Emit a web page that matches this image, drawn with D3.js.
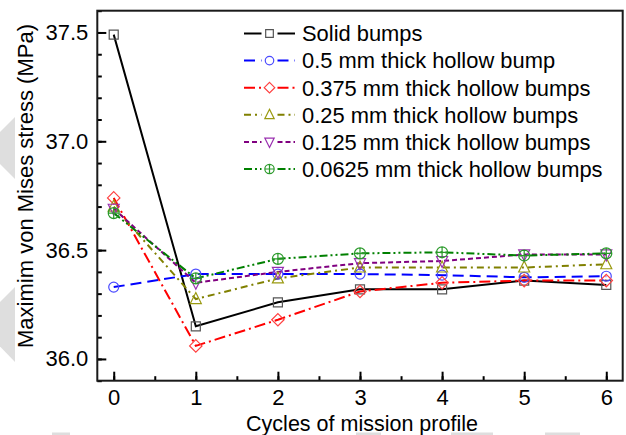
<!DOCTYPE html>
<html>
<head>
<meta charset="utf-8">
<script src="https://cdn.jsdelivr.net/npm/d3@7"></script>
<style>
  html, body { margin: 0; padding: 0; background: #fff; }
  svg { display: block; }
  text { font-family: "Liberation Sans", Arial, sans-serif; fill: #000; }
</style>
</head>
<body>
<svg id="chart" width="626" height="435"></svg>
<script>
// ---------------- data ----------------
const cycles = [0, 1, 2, 3, 4, 5, 6];
const seriesNames = [
  "Solid bumps",
  "0.5 mm thick hollow bump",
  "0.375 mm thick hollow bumps",
  "0.25 mm thick hollow bumps",
  "0.125 mm thick hollow bumps",
  "0.0625 mm thick hollow bumps"
];
const solidBumps     = [37.49, 36.15, 36.26, 36.32, 36.32, 36.36, 36.34];
const hollow0500     = [36.33, 36.39, 36.39, 36.39, 36.385, 36.375, 36.38];
const hollow0375     = [36.74, 36.06, 36.18, 36.31, 36.35, 36.36, 36.36];
const hollow0250     = [36.70, 36.275, 36.37, 36.42, 36.42, 36.42, 36.435];
const hollow0125     = [36.69, 36.35, 36.40, 36.44, 36.45, 36.48, 36.48];
const hollow00625    = [36.67, 36.37, 36.46, 36.485, 36.49, 36.475, 36.485];
const seriesValues = [solidBumps, hollow0500, hollow0375, hollow0250, hollow0125, hollow00625];
const xTickLabels = [0, 1, 2, 3, 4, 5, 6];
const yTickLabels = [36.0, 36.5, 37.0, 37.5];
const xTitle = "Cycles of mission profile";
const yTitle = "Maximim von Mises stress (MPa)";

// ---------------- styles ----------------
const lineColors   = ["#000000", "#0000ff", "#ff0000", "#808000", "#800080", "#008000"];
const markerColors = ["#555555", "#4a4aff", "#ff4040", "#9a9a10", "#9a30b0", "#2a9a2a"];
const dashes       = [null, "11,6", "11,4,2,4", "7,4,2,4", "5,3", "8,3,2,3,2,3"];
const markerTypes  = ["square", "circle", "diamond", "triUp", "triDown", "circlePlus"];

function markerPath(type, k) {
  k = k || 1;
  switch (type) {
    case "square": { const s = 4.5 * k; return `M${-s},${-s}H${s}V${s}H${-s}Z`; }
    case "circle": { const r = 5 * k; return `M${r},0A${r},${r} 0 1,1 ${-r},0A${r},${r} 0 1,1 ${r},0Z`; }
    case "diamond": { const d = 6.2 * k; return `M0,${-d}L${d},0L0,${d}L${-d},0Z`; }
    case "triUp": { const w = 5.5 * k, t = 6.5 * k, b = 4.5 * k; return `M0,${-t}L${w},${b}L${-w},${b}Z`; }
    case "triDown": { const w = 5.5 * k, t = 6.5 * k, b = 4.5 * k; return `M0,${t}L${w},${-b}L${-w},${-b}Z`; }
    case "circlePlus": { const r = 5.5 * k; return `M${r},0A${r},${r} 0 1,1 ${-r},0A${r},${r} 0 1,1 ${r},0ZM${-r},0H${r}M0,${-r}V${r}`; }
  }
}

// ---------------- layout ----------------
const svg = d3.select("#chart");
const plot = { left: 97.3, right: 622.7, top: 10.7, bottom: 380.7 };

const x = d3.scaleLinear().domain([-0.2, 6.2]).range([plot.left, plot.right]);
const y = d3.scaleLinear().domain([35.9, 37.6]).range([plot.bottom, plot.top]);

// watermark remnants (light gray)
const wm = svg.append("g").attr("fill", "#dedede");
wm.append("path").attr("d", "M15,117L15,179L-16,148Z");
wm.append("path").attr("d", "M15,287L15,362L-22,324Z");
[[52, 70], [356, 381], [451, 493], [545, 580]].forEach(([a, b]) => {
  wm.append("rect").attr("x", a).attr("y", 432.5).attr("width", b - a).attr("height", 2.5);
});

// minor ticks
const yMinor = d3.range(35.9, 37.61, 0.1).map(v => +v.toFixed(1));
const xMinor = d3.range(-0.5, 6.6, 0.5).filter(v => v >= -0.2 && v <= 6.2);

svg.append("g")
  .attr("transform", `translate(${plot.left},0)`)
  .call(d3.axisLeft(y).tickValues(yMinor).tickSizeInner(-4.5).tickSizeOuter(0).tickFormat(""))
  .call(g => g.select(".domain").remove())
  .call(g => g.selectAll("line").attr("stroke", "#000").attr("stroke-width", 2));

svg.append("g")
  .attr("transform", `translate(0,${plot.bottom})`)
  .call(d3.axisBottom(x).tickValues(xMinor).tickSizeInner(-4.5).tickSizeOuter(0).tickFormat(""))
  .call(g => g.select(".domain").remove())
  .call(g => g.selectAll("line").attr("stroke", "#000").attr("stroke-width", 2));

// major ticks + labels
svg.append("g")
  .attr("transform", `translate(${plot.left},0)`)
  .call(d3.axisLeft(y).tickValues(yTickLabels).tickSizeInner(-9).tickSizeOuter(0).tickPadding(9).tickFormat(d3.format(".1f")))
  .call(g => g.select(".domain").remove())
  .call(g => g.selectAll("line").attr("stroke", "#000").attr("stroke-width", 2))
  .call(g => g.selectAll("text").attr("font-size", 22).attr("font-family", "Liberation Sans, Arial, sans-serif").attr("fill", "#000"));

svg.append("g")
  .attr("transform", `translate(0,${plot.bottom})`)
  .call(d3.axisBottom(x).tickValues(xTickLabels).tickSizeInner(-9).tickSizeOuter(0).tickPadding(8.5).tickFormat(d3.format("d")))
  .call(g => g.select(".domain").remove())
  .call(g => g.selectAll("line").attr("stroke", "#000").attr("stroke-width", 2))
  .call(g => g.selectAll("text").attr("font-size", 22).attr("font-family", "Liberation Sans, Arial, sans-serif").attr("fill", "#000"));

// frame
svg.append("rect")
  .attr("x", plot.left).attr("y", plot.top)
  .attr("width", plot.right - plot.left).attr("height", plot.bottom - plot.top)
  .attr("fill", "none").attr("stroke", "#1a1a1a").attr("stroke-width", 2);

// axis titles
svg.append("text")
  .attr("x", 362).attr("y", 431)
  .attr("text-anchor", "middle").attr("font-size", 21.5)
  .text(xTitle);

svg.append("text")
  .attr("transform", "translate(33,186) rotate(-90)")
  .attr("text-anchor", "middle").attr("font-size", 22)
  .text(yTitle);

// series
const lineGen = d3.line().x((d, i) => x(cycles[i])).y(d => y(d));
const series = seriesValues.map((vals, i) => ({ name: seriesNames[i], vals, i }));

const lines = svg.append("g");
series.forEach(s => {
  lines.append("path")
    .attr("d", lineGen(s.vals))
    .attr("fill", "none")
    .attr("stroke", lineColors[s.i])
    .attr("stroke-width", 2)
    .attr("stroke-dasharray", dashes[s.i]);
});

const marks = svg.append("g");
series.forEach(s => {
  marks.selectAll(null)
    .data(s.vals)
    .enter().append("path")
    .attr("transform", (d, j) => `translate(${x(cycles[j])},${y(d)})`)
    .attr("d", markerPath(markerTypes[s.i]))
    .attr("fill", "none")
    .attr("stroke", markerColors[s.i])
    .attr("stroke-width", 1.2);
});

// legend
const legend = svg.append("g");
const legX0 = 244, legX1 = 295, legMid = 269.5, legTextX = 302, legY0 = 33.5, legDY = 27.1;
series.forEach(s => {
  const yy = legY0 + s.i * legDY;
  const row = legend.append("g");
  [[legX0, legMid - 8], [legMid + 8, legX1]].forEach(([a, b]) => {
    row.append("line")
      .attr("x1", a).attr("x2", b).attr("y1", yy).attr("y2", yy)
      .attr("stroke", lineColors[s.i]).attr("stroke-width", 2)
      .attr("stroke-dasharray", dashes[s.i]);
  });
  row.append("path")
    .attr("transform", `translate(${legMid},${yy})`)
    .attr("d", markerPath(markerTypes[s.i], 0.85))
    .attr("fill", "none").attr("stroke", markerColors[s.i]).attr("stroke-width", 1.2);
  row.append("text")
    .attr("x", legTextX).attr("y", yy).attr("dy", "0.36em")
    .attr("font-size", 21.9)
    .text(s.name);
});
</script>
</body>
</html>
